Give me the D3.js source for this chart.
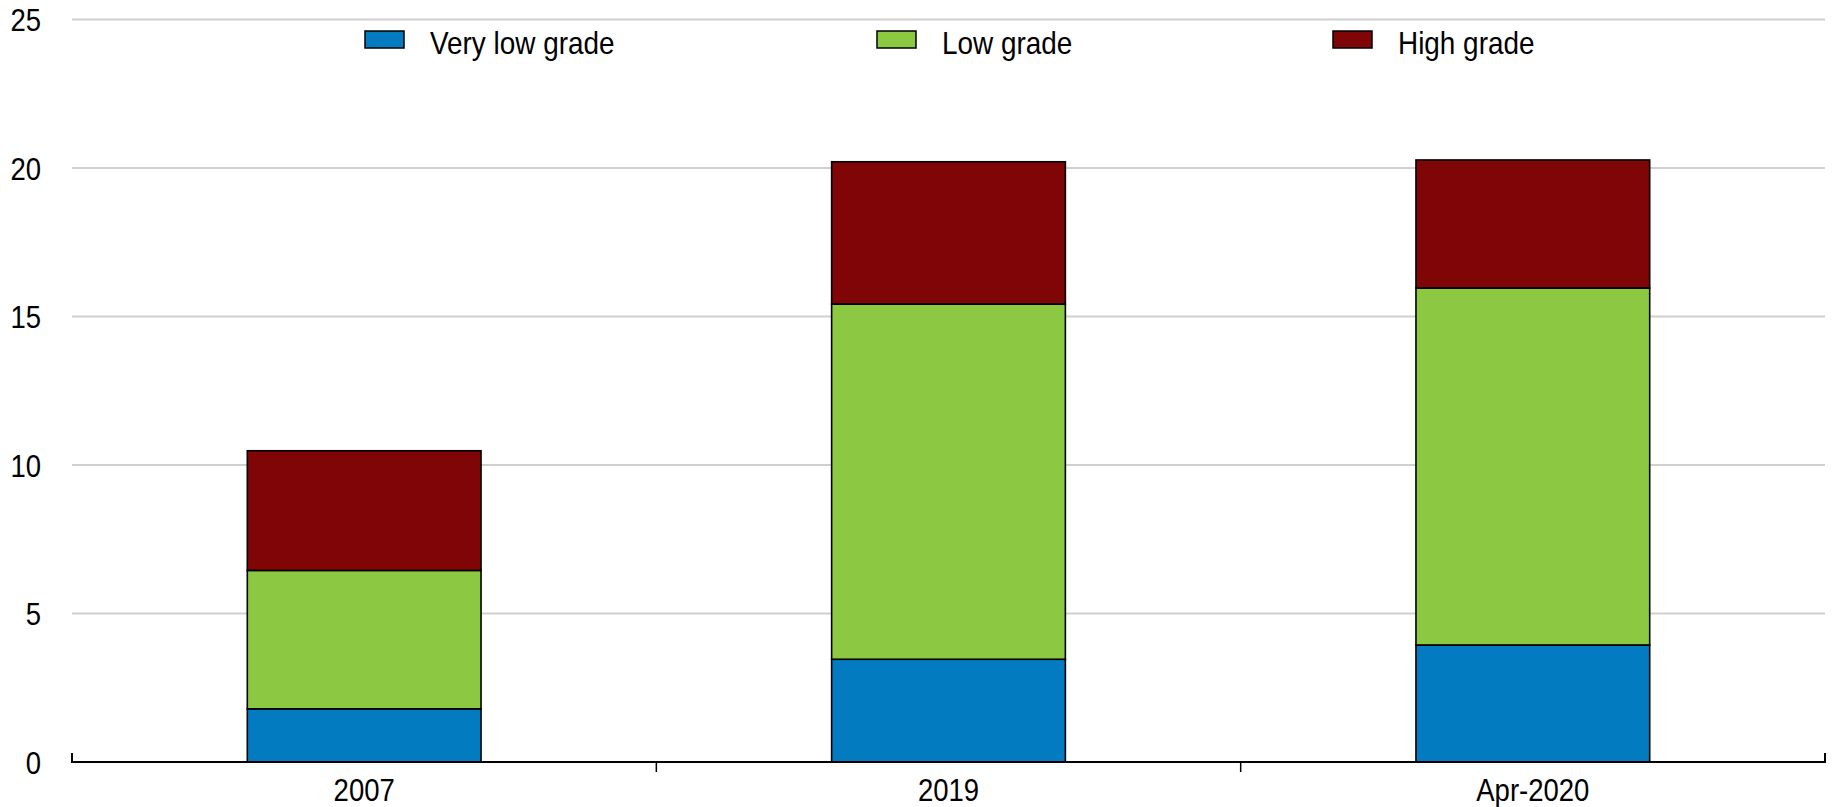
<!DOCTYPE html>
<html>
<head>
<meta charset="utf-8">
<script src="https://cdn.jsdelivr.net/npm/d3@7"></script>
<style>
  html, body { margin: 0; padding: 0; background: #fff; }
  svg { display: block; }
  text { font-family: "Liberation Sans", Arial, sans-serif; fill: #000; }
</style>
</head>
<body>
<svg id="chart" width="1837" height="807"></svg>
<script>
const categories = ["2007", "2019", "Apr-2020"];
const seriesNames = ["Very low grade", "Low grade", "High grade"];
const veryLowGrade = [1.79, 3.46, 3.94];
const lowGrade = [4.66, 11.96, 12.02];
const highGrade = [4.03, 4.79, 4.31];
const yTicks = [0, 5, 10, 15, 20, 25];
const colors = ["#037BC1", "#8CC841", "#7F0506"];

const W = 1837, H = 807;
const margin = { left: 72, right: 12 };
const x0 = margin.left, x1 = W - margin.right;
const yZero = 762, yTop = 19.5;
const narrow = 0.86;

const svg = d3.select("#chart");

const rows = categories.map((c, i) => ({
  cat: c,
  "Very low grade": veryLowGrade[i],
  "Low grade": lowGrade[i],
  "High grade": highGrade[i]
}));
const stack = d3.stack().keys(seriesNames)(rows);

const x = d3.scaleBand().domain(categories).range([x0, x1]).paddingInner(0).paddingOuter(0);
const y = d3.scaleLinear().domain([0, 25]).range([yZero, yTop]);

// gridlines
svg.append("g").selectAll("line").data(yTicks.filter(d => d > 0)).join("line")
  .attr("x1", x0).attr("x2", x1)
  .attr("y1", d => y(d)).attr("y2", d => y(d))
  .attr("stroke", "#d0d0d0").attr("stroke-width", 2);

// y labels
svg.append("g").selectAll("text").data(yTicks).join("text")
  .attr("transform", d => `translate(41,${y(d)}) scale(${narrow},1)`)
  .attr("text-anchor", "end").attr("dy", "0.36em")
  .attr("font-size", 32)
  .text(d => d);

// bars
const barW = x.bandwidth() * 0.4;
svg.append("g").selectAll("g").data(stack).join("g")
  .attr("fill", (d, i) => colors[i])
  .selectAll("rect").data(d => d).join("rect")
  .attr("x", d => x(d.data.cat) + (x.bandwidth() - barW) / 2)
  .attr("width", barW)
  .attr("y", d => y(d[1]))
  .attr("height", d => y(d[0]) - y(d[1]))
  .attr("stroke", "#000").attr("stroke-width", 1.6);

// x axis
svg.append("line").attr("x1", x0).attr("x2", x1).attr("y1", yZero).attr("y2", yZero)
  .attr("stroke", "#000").attr("stroke-width", 2);
[x0, x1].forEach(xx => svg.append("line").attr("x1", xx).attr("x2", xx)
  .attr("y1", yZero - 9).attr("y2", yZero + 1).attr("stroke", "#000").attr("stroke-width", 2));
categories.slice(1).forEach(c => svg.append("line")
  .attr("x1", x(c)).attr("x2", x(c)).attr("y1", yZero).attr("y2", yZero + 10)
  .attr("stroke", "#000").attr("stroke-width", 1.5));
svg.append("g").selectAll("text").data(categories).join("text")
  .attr("transform", d => `translate(${x(d) + x.bandwidth() / 2},801) scale(${narrow},1)`)
  .attr("text-anchor", "middle").attr("font-size", 32)
  .text(d => d);

// legend
const legendX = [365, 877, 1333];
const lg = svg.append("g").selectAll("g").data(seriesNames).join("g")
  .attr("transform", (d, i) => `translate(${legendX[i]},0)`);
lg.append("rect").attr("x", 0).attr("y", 31).attr("width", 39).attr("height", 17)
  .attr("fill", (d, i) => colors[i]).attr("stroke", "#000").attr("stroke-width", 1.5);
lg.append("text").attr("transform", "translate(65,54) scale(0.9,1)")
  .attr("font-size", 31).text(d => d);
</script>
</body>
</html>
